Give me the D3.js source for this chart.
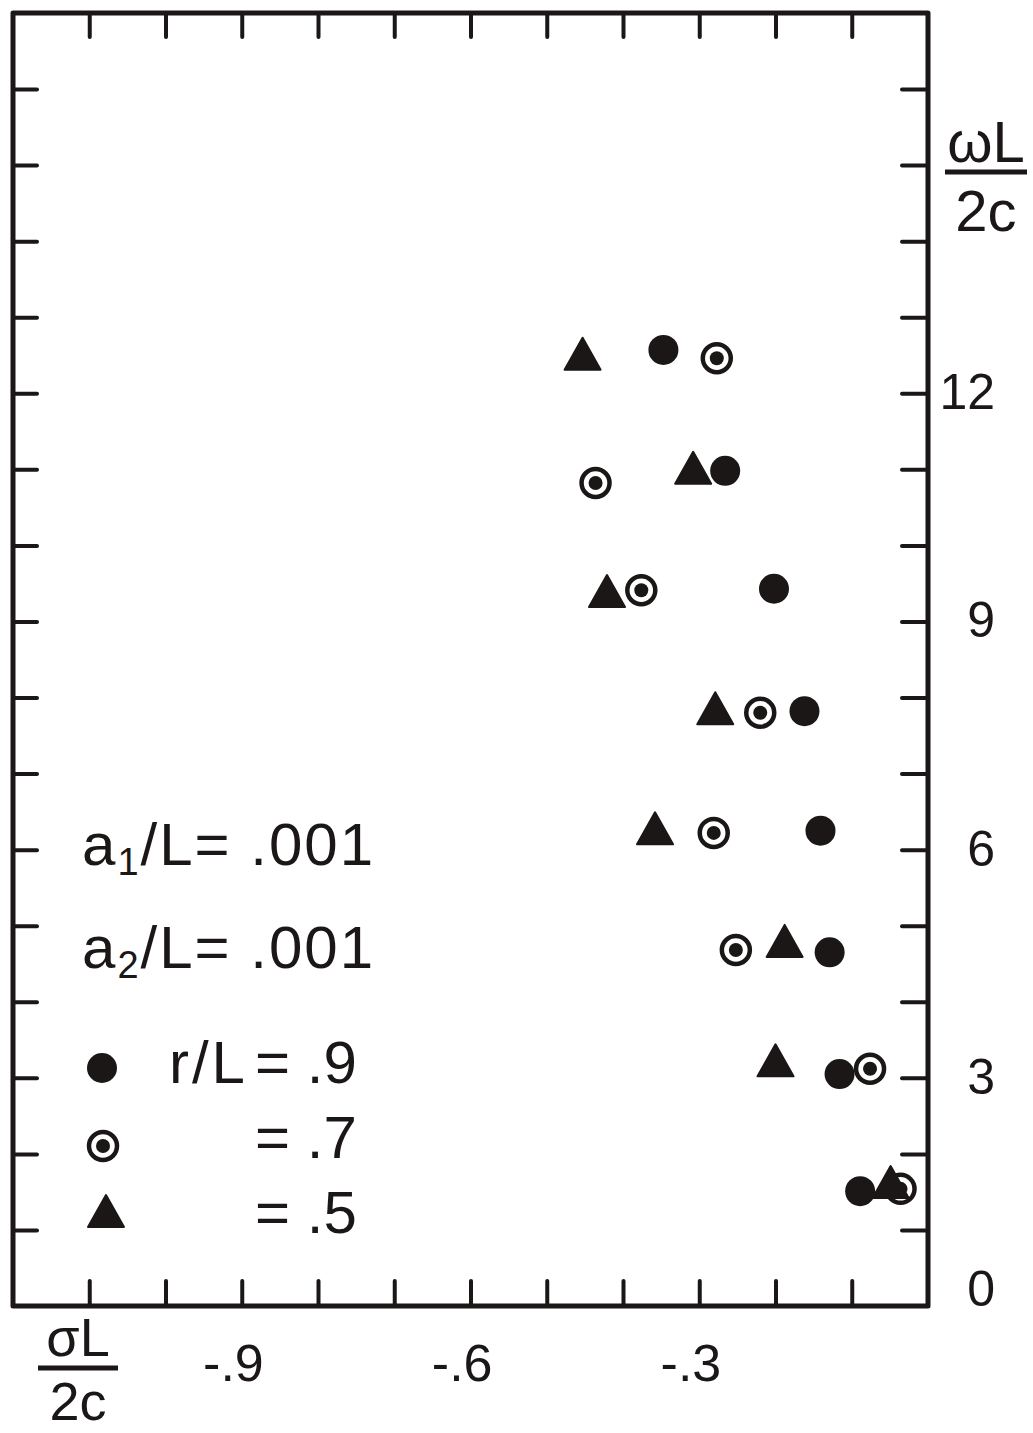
<!DOCTYPE html>
<html>
<head>
<meta charset="utf-8">
<script src="https://cdn.jsdelivr.net/npm/d3@7"></script>
<style>
  body { margin: 0; background: #fff; }
  text { font-family: "Liberation Sans", Arial, sans-serif; fill: #1a1716; }
</style>
</head>
<body>
<div id="chart"></div>
<script>
// decay rate sigma*L/2c (x) and frequency omega*L/2c (y), one pair of arrays per r/L
const sigmaR9 = [-0.347, -0.266, -0.202, -0.162, -0.141, -0.129, -0.116, -0.089];
const omegaR9 = [12.57, 10.98, 9.43, 7.82, 6.25, 4.65, 3.05, 1.51];
const sigmaR7 = [-0.277, -0.436, -0.376, -0.220, -0.281, -0.252, -0.076, -0.036];
const omegaR7 = [12.46, 10.82, 9.41, 7.80, 6.22, 4.68, 3.12, 1.54];
const sigmaR5 = [-0.453, -0.308, -0.421, -0.279, -0.358, -0.188, -0.200, -0.049];
const omegaR5 = [12.52, 11.02, 9.40, 7.86, 6.28, 4.80, 3.23, 1.63];

const xTickLabels = [-0.9, -0.6, -0.3];
const yTickLabels = [0, 3, 6, 9, 12];
const legendNames = ["r/L", "r/L", "r/L"];
const legendValues = [".9", ".7", ".5"];

const width = 1033;
const height = 1433;
const ink = "#1a1716";

const margin = { top: 13, left: 13, bottom: 127, right: 105 };

const x = d3.scaleLinear()
  .domain([-1.2, 0])
  .range([margin.left, width - margin.right]);

const y = d3.scaleLinear()
  .domain([0, 17])
  .range([height - margin.bottom, margin.top]);

const svg = d3.select("#chart")
  .append("svg")
  .attr("width", width)
  .attr("height", height);

// ticks (all pointing inward)
const xTicks = d3.range(-11, 0).map(d => d / 10);
const yTicks = d3.range(1, 17);

function styleAxis(g) {
  g.select(".domain").remove();
  g.selectAll(".tick line")
    .attr("stroke", ink)
    .attr("stroke-width", 4)
    .attr("stroke-linecap", "round");
}

svg.append("g")
  .attr("transform", `translate(${x(-1.2)},0)`)
  .call(d3.axisLeft(y).tickValues(yTicks).tickSize(-24).tickFormat(""))
  .call(styleAxis);

svg.append("g")
  .attr("transform", `translate(${x(0)},0)`)
  .call(d3.axisRight(y).tickValues(yTicks).tickSize(-26).tickFormat(""))
  .call(styleAxis);

svg.append("g")
  .attr("transform", `translate(0,${y(17)})`)
  .call(d3.axisTop(x).tickValues(xTicks).tickSize(-24).tickFormat(""))
  .call(styleAxis);

svg.append("g")
  .attr("transform", `translate(0,${y(0)})`)
  .call(d3.axisBottom(x).tickValues(xTicks).tickSize(-25).tickFormat(""))
  .call(styleAxis);

// frame
svg.append("rect")
  .attr("x", x(-1.2))
  .attr("y", y(17))
  .attr("width", x(0) - x(-1.2))
  .attr("height", y(0) - y(17))
  .attr("fill", "none")
  .attr("stroke", ink)
  .attr("stroke-width", 5)
  .attr("stroke-linejoin", "round");

// tick labels
svg.selectAll("text.xlab")
  .data(xTickLabels)
  .enter()
  .append("text")
  .attr("class", "xlab")
  .attr("x", d => x(d) + 22)
  .attr("y", 1381)
  .attr("text-anchor", "end")
  .attr("font-size", 52)
  .text(d => "-" + d3.format(".1f")(-d).slice(1));

svg.selectAll("text.ylab")
  .data(yTickLabels)
  .enter()
  .append("text")
  .attr("class", "ylab")
  .attr("x", 995)
  .attr("y", d => Math.min(y(d), y(0) - 16) + 16)
  .attr("text-anchor", "end")
  .attr("font-size", 50)
  .text(d => d);

// axis titles (fractions)
function fraction(cx, numY, barY, denY, size, numer, denom, barW) {
  const g = svg.append("g");
  g.append("text")
    .attr("x", cx)
    .attr("y", numY)
    .attr("text-anchor", "middle")
    .attr("font-size", size)
    .text(numer);
  g.append("line")
    .attr("x1", cx - barW / 2)
    .attr("x2", cx + barW / 2)
    .attr("y1", barY)
    .attr("y2", barY)
    .attr("stroke", ink)
    .attr("stroke-width", 5);
  g.append("text")
    .attr("x", cx)
    .attr("y", denY)
    .attr("text-anchor", "middle")
    .attr("font-size", size)
    .text(denom);
}
fraction(986, 162, 172, 231, 58, "\u03c9L", "2c", 82);
fraction(78, 1356, 1368, 1420, 54, "\u03c3L", "2c", 80);

// markers
const tri = "M0,-16L18,16L-18,16Z";

function dotted(sel, cx, cy) {
  sel.append("circle")
    .attr("cx", cx).attr("cy", cy).attr("r", 14)
    .attr("fill", "#fff")
    .attr("stroke", ink)
    .attr("stroke-width", 4.5);
  sel.append("circle")
    .attr("cx", cx).attr("cy", cy).attr("r", 7)
    .attr("fill", ink);
}

const plotG = svg.append("g");

sigmaR7.forEach((s, i) => dotted(plotG, x(s), y(omegaR7[i])));

plotG.selectAll("circle.r9")
  .data(sigmaR9)
  .enter()
  .append("circle")
  .attr("class", "r9")
  .attr("cx", d => x(d))
  .attr("cy", (d, i) => y(omegaR9[i]))
  .attr("r", 15)
  .attr("fill", ink);

plotG.selectAll("path.r5")
  .data(sigmaR5)
  .enter()
  .append("path")
  .attr("class", "r5")
  .attr("d", tri)
  .attr("transform", (d, i) => `translate(${x(d)},${y(omegaR5[i])})`)
  .attr("fill", ink)
  .attr("stroke", ink)
  .attr("stroke-width", 2)
  .attr("stroke-linejoin", "round");

// legend
const legG = svg.append("g");

function subText(tx, ty, sub) {
  const t = legG.append("text")
    .attr("x", tx)
    .attr("y", ty)
    .attr("font-size", 60)
    .attr("letter-spacing", 2);
  t.append("tspan").text("a");
  t.append("tspan").attr("font-size", 38).attr("dy", 10).text(sub);
  t.append("tspan").attr("dy", -10).text("/L= .001");
}
subText(82, 865, "1");
subText(82, 968, "2");

legG.append("circle")
  .attr("cx", 102).attr("cy", 1068).attr("r", 15)
  .attr("fill", ink);
dotted(legG, 103, 1146);
legG.append("path")
  .attr("d", tri)
  .attr("transform", "translate(106,1211)")
  .attr("fill", ink)
  .attr("stroke", ink)
  .attr("stroke-width", 2)
  .attr("stroke-linejoin", "round");

const legY = [1083, 1158, 1233];
legG.append("text")
  .attr("x", 248)
  .attr("y", legY[0])
  .attr("text-anchor", "end")
  .attr("font-size", 60)
  .attr("letter-spacing", 3)
  .text(legendNames[0]);
legG.selectAll("text.val")
  .data(legendValues)
  .enter()
  .append("text")
  .attr("class", "val")
  .attr("x", 255)
  .attr("y", (d, i) => legY[i])
  .attr("font-size", 60)
  .text(d => "= " + d);
</script>
</body>
</html>
